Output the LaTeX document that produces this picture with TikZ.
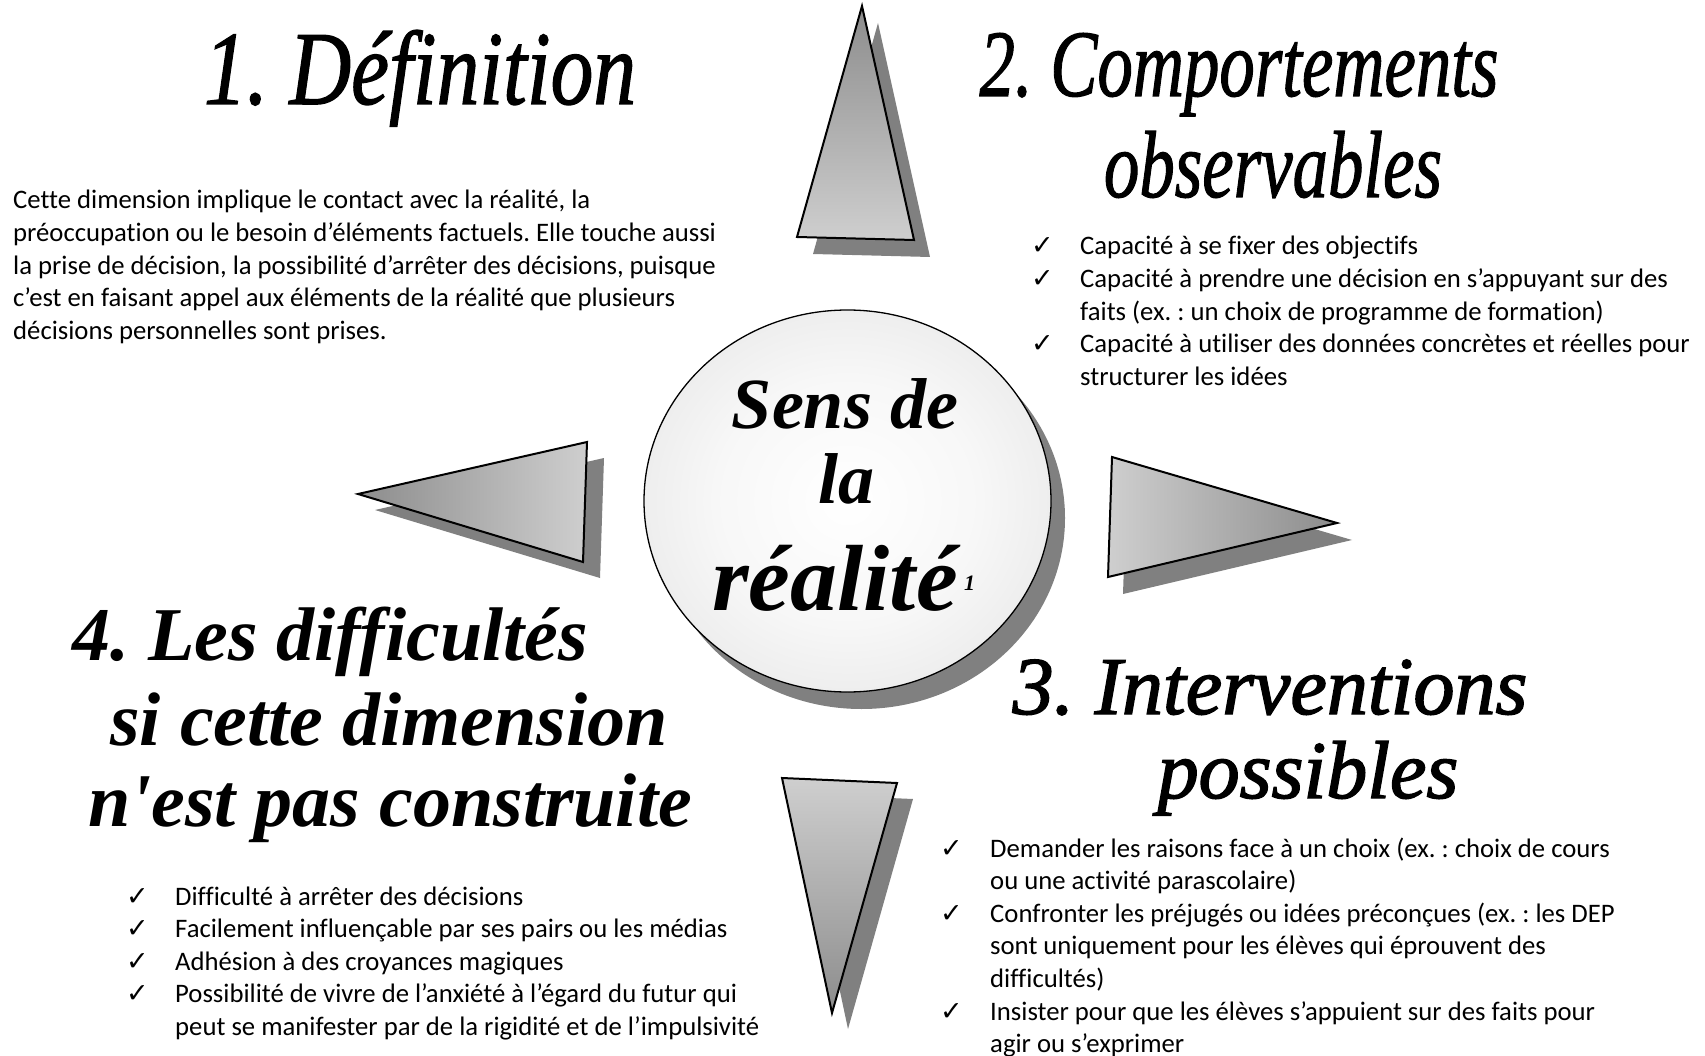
\documentclass[tikz,border=0pt]{standalone}
\usepackage{fontspec}
\setmainfont{Carlito}[Ligatures=NoCommon]
\newfontfamily\tnr{Liberation Serif}
\newfontface\tnrhead{Liberation Serif Italic}[FakeBold=1.3]
\newfontface\tnrheadC{Liberation Serif Italic}[FakeBold=1.8]
\newfontfamily\djv{DejaVu Sans}
\usetikzlibrary{shapes.geometric}
\pgfdeclareradialshading{ballshade}{\pgfpoint{0bp}{0bp}}{color(0bp)=(white); color(16bp)=(white!97!black); color(50bp)=(black!17); color(60bp)=(black!17)}
\tikzset{
  tri/.style={draw=black, line width=2pt, line join=miter},
  shad/.style={fill=black!50, draw=none},
  body/.style={font=\frenchspacing\fontsize{26.7}{32}\selectfont, inner sep=0pt, anchor=base west},
  chk/.style={font=\djv\fontsize{27}{30}\selectfont, inner sep=0pt, anchor=base west},
  head/.style={inner sep=0pt, anchor=base},
  headA/.style={font=\frenchspacing\tnrhead\fontsize{105}{105}\selectfont},
  headB/.style={font=\frenchspacing\tnrhead\fontsize{95}{95}\selectfont},
  headC/.style={font=\frenchspacing\tnrheadC\fontsize{82}{82}\selectfont},
  headD/.style={font=\frenchspacing\tnr\bfseries\itshape\fontsize{76}{76}\selectfont},
  ballA/.style={font=\tnr\bfseries\itshape\fontsize{72}{72}\selectfont},
  ballB/.style={font=\tnr\bfseries\itshape\fontsize{94}{94}\selectfont},
}
\begin{document}
\begin{tikzpicture}[x=1pt,y=-1pt]
\useasboundingbox[fill=white] (0,0) rectangle (1705,1056);

% ---- triangles (shadows first) ----
\fill[shad, shift={(16,17)}] (862,6) -- (797,237) -- (914,240) -- cycle;
\draw[tri, top color=black!45, bottom color=black!19] (862,6) -- (797,237) -- (914,240) -- cycle;

\fill[shad, shift={(17,16)}] (358,494) -- (587,442) -- (583,562) -- cycle;
\draw[tri, left color=black!45, right color=black!19] (358,494) -- (587,442) -- (583,562) -- cycle;

\fill[shad, shift={(15,17)}] (1112,457) -- (1337,523) -- (1108,577) -- cycle;
\draw[tri, left color=black!19, right color=black!45] (1112,457) -- (1337,523) -- (1108,577) -- cycle;

\fill[shad, shift={(16,16)}] (782,778) -- (897,783) -- (832,1013) -- cycle;
\draw[tri, top color=black!19, bottom color=black!45] (782,778) -- (897,783) -- (832,1013) -- cycle;

% ---- central ball ----
\node[ellipse, fill=black!50, minimum width=407pt, minimum height=382pt, inner sep=0pt] (ballshadow) at (861.5,518) {};
\node[ellipse, draw=black, line width=1.3pt, shading=ballshade, minimum width=407pt, minimum height=382pt, inner sep=0pt] (ball) at (847.5,501) {};
\node[head, ballA] (b1) at (845,428) {Sens de};
\node[head, ballA] (b2) at (846,503) {la};
\node[head, ballB] (b3) at (835,610) {réalité};
\node[inner sep=0pt, anchor=base west, font=\tnr\bfseries\itshape\fontsize{22}{22}\selectfont] (b4) at (964,590) {1};

% ---- headings ----
\node[head, headA] (h1) at (420,104) {\scalebox{0.814}[1]{1. Définition}};
\node[head, headB] (h2a) at (1239,96) {\scalebox{0.745}[1]{2. Comportements}};
\node[head, headB] (h2b) at (1273,197) {\scalebox{0.745}[1]{observables}};
\node[head, headC] (h3a) at (1270,714) {3. Interventions};
\node[head, headC] (h3b) at (1308,798) {possibles};
\node[head, headD] (h4a) at (330,660) {4. Les difficultés};
\node[head, headD] (h4b) at (389,745) {si cette dimension};
\node[head, headD] (h4c) at (390,826) {n'est pas construite};

% ---- 1. definition paragraph ----
\node[body] (d1) at (13,209) {Cette dimension implique le contact avec la réalité, la};
\node[body] (d2) at (13,241.6) {préoccupation ou le besoin d’éléments factuels. Elle touche aussi};
\node[body] (d3) at (13,274.2) {la prise de décision, la possibilité d’arrêter des décisions, puisque};
\node[body] (d4) at (13,306.8) {c’est en faisant appel aux éléments de la réalité que plusieurs};
\node[body] (d5) at (13,339.4) {décisions personnelles sont prises.};

% ---- 2. observable behaviours ----
\node[chk] (c2a) at (1031,255) {✓};
\node[body] (o1) at (1080,255) {Capacité à se fixer des objectifs};
\node[chk] (c2b) at (1031,287.6) {✓};
\node[body] (o2) at (1080,287.6) {Capacité à prendre une décision en s’appuyant sur des};
\node[body] (o3) at (1080,320.2) {faits (ex. : un choix de programme de formation)};
\node[chk] (c2c) at (1031,352.8) {✓};
\node[body] (o4) at (1080,352.8) {Capacité à utiliser des données concrètes et réelles pour};
\node[body] (o5) at (1080,385.4) {structurer les idées};

% ---- 3. interventions ----
\node[chk] (c3a) at (940,857) {✓};
\node[body] (i1) at (990,857) {Demander les raisons face à un choix (ex. : choix de cours};
\node[body] (i2) at (990,889.6) {ou une activité parascolaire)};
\node[chk] (c3b) at (940,922.2) {✓};
\node[body] (i3) at (990,922.2) {Confronter les préjugés ou idées préconçues (ex. : les DEP};
\node[body] (i4) at (990,954.8) {sont uniquement pour les élèves qui éprouvent des};
\node[body] (i5) at (990,987.4) {difficultés)};
\node[chk] (c3c) at (940,1020) {✓};
\node[body] (i6) at (990,1020) {Insister pour que les élèves s’appuient sur des faits pour};
\node[body] (i7) at (990,1052.6) {agir ou s’exprimer};

% ---- 4. difficulties ----
\node[chk] (c4a) at (126,905) {✓};
\node[body] (f1) at (175,905) {Difficulté à arrêter des décisions};
\node[chk] (c4b) at (126,937.6) {✓};
\node[body] (f2) at (175,937.6) {Facilement influençable par ses pairs ou les médias};
\node[chk] (c4c) at (126,970.2) {✓};
\node[body] (f3) at (175,970.2) {Adhésion à des croyances magiques};
\node[chk] (c4d) at (126,1002.8) {✓};
\node[body] (f4) at (175,1002.8) {Possibilité de vivre de l’anxiété à l’égard du futur qui};
\node[body] (f5) at (175,1035.4) {peut se manifester par de la rigidité et de l’impulsivité};
\end{tikzpicture}
\end{document}
